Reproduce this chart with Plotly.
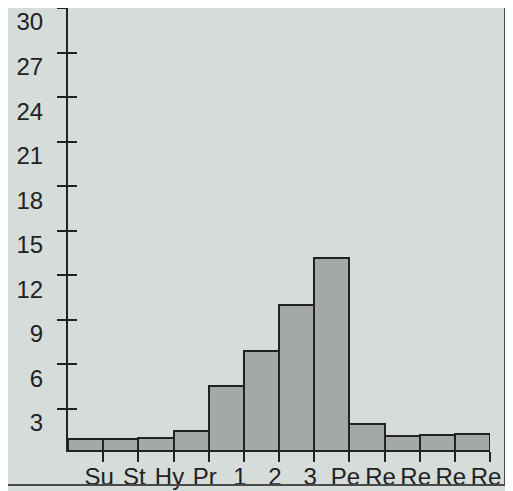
import numpy as np
import plotly.graph_objects as go

# categorias e valores
labels = ["Su", "St", "Hy", "Pr", "1", "2", "3", "Pe", "Re", "Re", "Re", "Re"]
values = [0.98, 0.99, 1.05, 1.5, 4.57, 6.9, 10.0, 13.2, 1.97, 1.2, 1.25, 1.32]
y_ticks = [3, 6, 9, 12, 15, 18, 21, 24, 27, 30]

ink = "#222222"
bg = "#d6dcd9"

pos = np.arange(len(labels)) + 0.5

fig = go.Figure()

fig.add_trace(go.Bar(
    x=pos,
    y=values,
    width=1,
    marker=dict(color="#a5a9a6", line=dict(color=ink, width=2)),
    showlegend=False,
))

# traço invisível para ancorar o eixo dos ticks internos
fig.add_trace(go.Scatter(x=[pos[0]], y=[values[0]], yaxis="y2",
                         mode="markers", marker=dict(opacity=0),
                         showlegend=False, hoverinfo="skip"))

font = dict(family="Liberation Sans, Arial, sans-serif", size=24, color=ink)

fig.update_layout(
    width=505, height=483,
    margin=dict(l=60, r=23, t=0, b=41),
    paper_bgcolor=bg, plot_bgcolor=bg,
    bargap=0,
    xaxis=dict(
        range=[0, len(labels)],
        tickvals=list(np.arange(1, len(labels) + 1)),
        ticktext=labels,
        ticks="outside", ticklen=10, tickwidth=1.5, tickcolor=ink,
        showline=True, linewidth=2, linecolor=ink,
        showgrid=False, zeroline=False, automargin=False,
        tickfont=font, ticklabelshift=-4, ticklabelstandoff=-6,
    ),
    yaxis=dict(
        range=[0.24, 30],
        tickvals=y_ticks,
        ticks="outside", ticklen=9, tickwidth=1.5, tickcolor=ink,
        showline=True, linewidth=2, linecolor=ink,
        showgrid=False, zeroline=False, automargin=False,
        tickfont=font, ticklabelshift=14, ticklabelstandoff=9,
    ),
    yaxis2=dict(
        overlaying="y", anchor="x", side="left",
        range=[0.24, 30], tickvals=y_ticks,
        ticks="inside", ticklen=9, tickwidth=1.5, tickcolor=ink,
        showticklabels=False, showgrid=False, zeroline=False,
        automargin=False,
    ),
)

# moldura da figura impressa
fig.add_shape(type="line", xref="paper", yref="paper",
              x0=1.0355, x1=1.0355, y0=-0.079, y1=1.0,
              line=dict(color="#4a4a4a", width=2))
fig.add_shape(type="line", xref="paper", yref="paper",
              x0=-0.15, x1=1.0355, y0=-0.079, y1=-0.079,
              line=dict(color="#4a4a4a", width=2))

fig.write_html("out.html")
